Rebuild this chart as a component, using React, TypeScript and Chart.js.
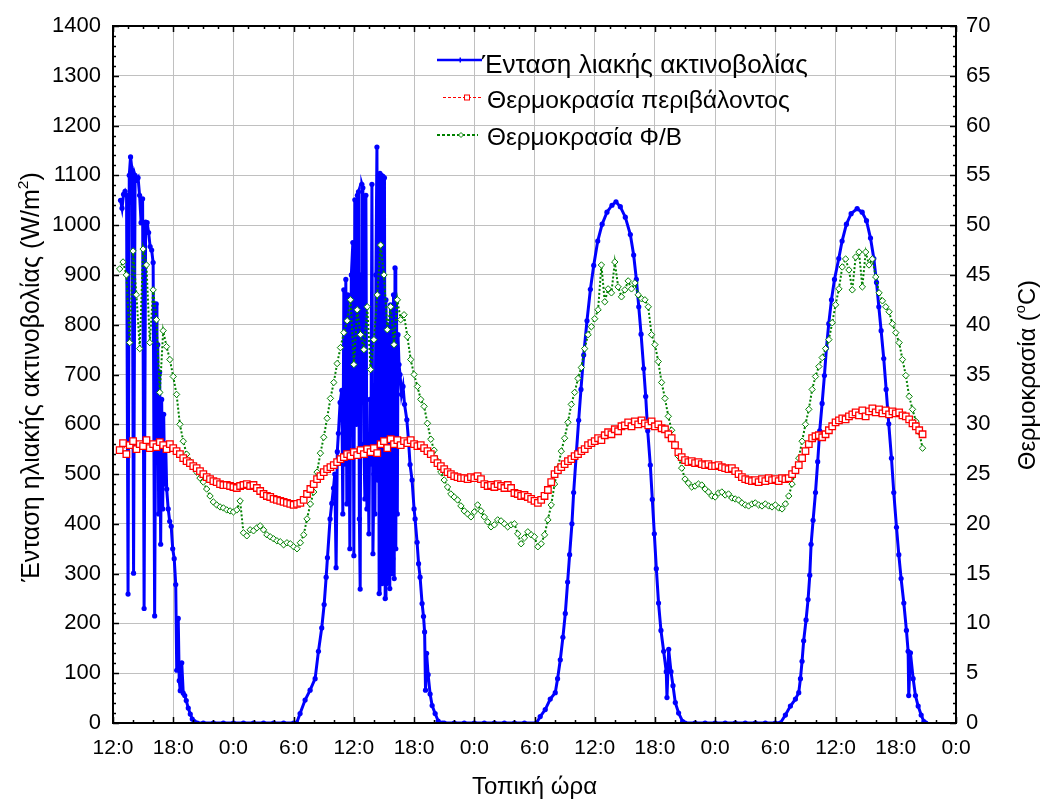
import React, { useEffect, useRef } from "react";
import { Chart, registerables } from "chart.js";

Chart.register(...registerables);

const FONT = '"Liberation Sans", Arial, Helvetica, sans-serif';

// ---- axis tick labels ----
const timeTickLabels = ["12:0", "18:0", "0:0", "6:0", "12:0", "18:0", "0:0", "6:0", "12:0", "18:0", "0:0", "6:0", "12:0", "18:0", "0:0"];
const TIME_TICK_STEP = 6; // hours between labelled ticks

// ---- solar irradiance (W/m2), hours since first 12:00 ----
const irrDay1Hours = [0.75, 0.9, 1.05, 1.2, 1.35, 1.5, 1.62, 1.75, 1.9, 2.05, 2.2, 2.35, 2.5, 2.65, 2.8, 2.95, 3.1, 3.25, 3.4, 3.55, 3.7, 3.85, 4.0, 4.15, 4.3, 4.38, 4.46, 4.55, 4.65, 4.75, 4.85, 4.95, 5.05, 5.15, 5.25, 5.35, 5.5, 5.65, 5.8, 5.95, 6.1, 6.25, 6.35, 6.5, 6.6, 6.7, 6.85, 7.0, 7.15, 7.3, 7.5, 7.7, 7.9, 8.1, 8.4, 9, 10, 11, 12, 13, 14, 15, 16, 17, 18];
const irrDay1Values = [1050, 1034, 1062, 1068, 1060, 259, 1100, 1137, 1110, 301, 1100, 1090, 1095, 1060, 1005, 1053, 230, 1006, 1005, 985, 957, 950, 925, 215, 842, 560, 760, 420, 705, 359, 650, 430, 620, 480, 560, 470, 430, 405, 395, 350, 330, 278, 106, 210, 85, 65, 121, 60, 55, 45, 30, 18, 8, 3, 0, 0, 0, 0, 0, 0, 0, 0, 0, 0, 0];

const irrDay2Hours = [18.3, 18.64, 19.14, 19.64, 20.14, 20.47, 20.8, 21.04, 21.24, 21.37, 21.63, 21.8, 21.97, 22.1, 22.23, 22.35, 22.46, 22.63, 22.8, 22.9, 23.0, 23.1, 23.2, 23.3, 23.4, 23.5, 23.6, 23.75, 23.9, 24.0, 24.1, 24.25, 24.35, 24.46, 24.55, 24.63, 24.72, 24.8, 24.9, 25.0, 25.1, 25.2, 25.3, 25.4, 25.5, 25.6, 25.7, 25.8, 25.9, 26.0, 26.1, 26.2, 26.3, 26.38, 26.45, 26.52, 26.6, 26.68, 26.75, 26.82, 26.9, 26.98, 27.05, 27.12, 27.2, 27.28, 27.35, 27.42, 27.5, 27.58, 27.65, 27.72, 27.8, 27.88, 27.95, 28.02, 28.1, 28.18, 28.25, 28.33, 28.4, 28.5, 28.6, 28.75, 28.9, 29.05, 29.28, 29.45, 29.6, 29.8, 30.0, 30.1, 30.3, 30.45, 30.6, 30.8, 30.94, 31.05, 31.14, 31.25, 31.4, 31.6, 31.8, 32.1, 32.4, 32.8, 33, 34, 35, 36, 37, 38, 39, 40, 41];
const irrDay2Values = [0, 19, 46, 66, 89, 144, 191, 238, 293, 332, 410, 441, 472, 500, 312, 545, 582, 644, 668, 420, 870, 520, 891, 440, 860, 700, 350, 900, 965, 336, 1051, 600, 1060, 1067, 410, 269, 900, 1082, 1075, 560, 450, 1060, 430, 560, 380, 650, 520, 1082, 340, 500, 420, 900, 1157, 488, 1100, 260, 1104, 320, 1100, 280, 1098, 300, 1095, 250, 850, 280, 800, 320, 780, 270, 840, 300, 820, 330, 860, 290, 914, 350, 848, 420, 780, 720, 700, 660, 676, 640, 609, 566, 519, 488, 430, 410, 363, 320, 293, 240, 214, 183, 66, 140, 97, 58, 35, 19, 4, 0, 0, 0, 0, 0, 0, 0, 0, 0, 0];

const irrDay3Hours = [42.2, 42.57, 43.07, 43.57, 44.07, 44.3, 44.57, 44.83, 45.07, 45.3, 45.5, 45.73, 45.9, 46.16, 46.4, 46.63, 46.9, 47.23, 47.57, 47.9, 48.3, 48.74, 49.22, 49.72, 50.12, 50.55, 51.05, 51.55, 51.88, 52.15, 52.39, 52.62, 52.88, 53.08, 53.28, 53.54, 53.74, 53.94, 54.14, 54.36, 54.6, 54.87, 55.13, 55.2, 55.37, 55.6, 55.8, 56.03, 56.36, 56.76, 57.0, 58, 59, 60, 61, 62, 63, 64, 65, 66];
const irrDay3Values = [0, 13, 27, 48, 61, 89, 127, 172, 220, 283, 338, 400, 463, 539, 608, 670, 739, 808, 871, 919, 968, 1002, 1026, 1040, 1047, 1037, 1016, 981, 940, 891, 836, 781, 712, 656, 587, 518, 449, 380, 310, 241, 186, 144, 103, 51, 148, 103, 75, 41, 20, 3, 0, 0, 0, 0, 0, 0, 0, 0, 0, 0];

const irrDay4Hours = [66.5, 67.0, 67.5, 68.0, 68.33, 68.5, 68.66, 68.82, 69.06, 69.26, 69.43, 69.56, 69.76, 70.0, 70.22, 70.42, 70.66, 70.89, 71.09, 71.32, 71.59, 71.89, 72.32, 72.65, 73.08, 73.55, 74.15, 74.65, 75.08, 75.48, 75.81, 76.08, 76.31, 76.54, 76.8, 77.04, 77.3, 77.57, 77.8, 78.07, 78.3, 78.53, 78.8, 79.06, 79.23, 79.29, 79.46, 79.73, 79.96, 80.23, 80.53, 80.8, 81.0];
const irrDay4Values = [0, 16, 34, 48, 61, 89, 124, 165, 207, 248, 297, 359, 407, 463, 525, 587, 642, 698, 753, 802, 850, 891, 933, 968, 1002, 1023, 1033, 1026, 1009, 974, 933, 885, 836, 788, 732, 670, 601, 532, 463, 393, 338, 290, 241, 186, 144, 55, 141, 89, 55, 34, 16, 3, 0];

// ---- temperatures (°C), one reading every 20 minutes from 12:40 ----
const TEMP_START_HOUR = 2 / 3;
const TEMP_STEP_HOURS = 1 / 3;

const ambientTemp = [27.4,
  28.1, 27.0, 27.9, 28.3, 27.5, 28.0, 27.8, 28.4, 27.6, 28.0, 27.7, 28.2, 27.9, 27.5, 28.0,
  27.6, 27.3, 27.0, 26.6, 26.3, 26.1, 25.8, 25.6, 25.3, 25.0, 24.7, 24.5, 24.3, 24.2, 24.0,
  23.9, 23.9, 23.8, 23.7, 23.6, 23.8, 23.9, 24.0, 23.8, 23.9, 23.6, 23.3, 23.0, 22.8, 22.7,
  22.5, 22.4, 22.3, 22.2, 22.1, 22.0, 21.9, 22.0, 22.1, 22.4, 23.0, 23.5, 24.0, 24.5, 24.8,
  25.2, 25.5, 25.7, 25.9, 26.2, 26.5, 26.7, 27.0, 26.8, 27.2, 26.9, 27.4, 27.0, 27.5, 27.2,
  27.6, 27.1, 28.0, 28.3, 27.6, 28.5, 28.0, 28.4, 27.9, 28.3, 28.1, 28.4, 28.0, 27.8, 27.9,
  27.6, 27.3, 27.0, 26.5, 26.1, 25.8, 25.5, 25.2, 25.0, 24.8, 24.7, 24.6, 24.6, 24.5, 24.7,
  24.6, 24.8, 24.5, 24.0, 23.8, 23.9, 23.7, 24.0, 23.8, 23.6, 23.9, 23.6, 23.1, 23.0, 22.8,
  22.9, 22.7, 22.5, 22.3, 22.1, 22.4, 22.8, 23.4, 24.2, 25.0, 25.4, 25.7, 26.0, 26.3, 26.5,
  26.8, 27.0, 27.3, 27.5, 27.9, 28.1, 28.3, 28.6, 28.4, 28.9, 29.2, 29.0, 29.5, 29.3, 29.8,
  29.9, 30.2, 29.8, 30.3, 30.0, 30.4, 30.1, 29.9, 30.3, 29.8, 30.0, 29.6, 29.5, 29.0, 28.6,
  27.9, 27.2, 26.7, 26.4, 26.2, 26.3, 26.1, 26.2, 26.0, 25.9, 26.0, 25.8, 25.8, 25.9, 25.7,
  25.6, 25.5, 25.6, 25.3, 25.0, 24.7, 24.5, 24.4, 24.3, 24.4, 24.2, 24.5, 24.3, 24.6, 24.4,
  24.5, 24.3, 24.6, 24.5, 24.6, 25.0, 25.4, 25.9, 26.6, 27.3, 28.0, 28.6, 28.8, 28.9, 28.7,
  29.0, 29.4, 29.8, 30.2, 30.4, 30.6, 30.5, 30.8, 31.0, 31.2, 30.9, 31.4, 30.8, 31.3, 31.6,
  31.2, 31.5, 31.1, 31.4, 31.0, 31.3, 31.1, 31.2, 30.9, 30.8, 30.5, 30.1, 29.8, 29.4, 29.0];

const pvTemp = [45.6,
  46.3, 45.0, 38.2, 47.4, 43.0, 37.6, 47.6, 46.0, 38.2, 43.5, 40.5, 33.2, 39.4, 37.8, 36.5,
  34.8, 33.0, 30.0, 28.3, 27.0, 26.3, 25.9, 25.2, 24.6, 24.2, 23.5, 22.8, 22.2, 21.9, 21.7,
  21.6, 21.4, 21.3, 21.2, 21.4, 22.3, 19.1, 18.8, 19.4, 19.3, 19.6, 19.8, 19.4, 18.9, 18.7,
  18.5, 18.3, 18.2, 17.9, 18.1, 18.0, 17.7, 17.5, 18.1, 18.9, 20.5, 22.0, 23.2, 25.2, 27.1,
  28.7, 30.6, 32.6, 34.2, 36.1, 37.7, 39.2, 40.4, 42.5, 36.0, 41.5, 39.0, 37.5, 41.8, 35.5,
  38.5, 43.0, 48.0, 45.0, 39.5, 41.8, 38.0, 42.5, 40.5, 41.0, 38.8, 36.5, 35.0, 33.8, 32.5,
  31.8, 30.1, 28.5, 27.4, 26.3, 25.2, 24.4, 23.7, 23.0, 22.7, 22.4, 21.8, 21.3, 21.0, 20.7,
  21.2, 21.9, 21.3, 20.7, 20.2, 19.7, 19.9, 20.4, 20.3, 20.0, 19.7, 19.9, 20.0, 19.0, 18.0,
  18.6, 19.2, 18.9, 18.7, 17.7, 18.0, 18.9, 20.4, 21.9, 24.0, 25.6, 27.3, 28.6, 30.2, 32.0,
  33.2, 34.6, 35.7, 37.6, 39.0, 39.8, 40.6, 41.5, 46.0, 42.3, 43.6, 43.2, 46.3, 43.8, 42.8,
  43.5, 44.4, 43.6, 44.2, 43.0, 42.6, 42.5, 41.8, 39.0, 38.0, 36.3, 34.2, 32.6, 30.8, 29.4,
  28.0, 26.8, 25.6, 24.5, 24.1, 23.7, 23.8, 24.0, 23.9, 23.5, 23.2, 22.8, 22.7, 23.1, 23.2,
  22.9, 23.0, 22.6, 22.5, 22.4, 22.1, 21.9, 21.8, 22.0, 22.1, 21.9, 21.8, 22.0, 21.8, 21.7,
  21.9, 21.6, 21.5, 22.0, 22.8, 24.0, 25.5, 26.6, 28.3, 30.0, 31.5, 33.5, 34.8, 35.8, 36.7,
  37.6, 38.5, 40.2, 42.0, 43.6, 45.8, 46.6, 45.5, 43.5, 46.8, 47.3, 43.8, 47.3, 46.0, 46.6,
  44.8, 43.2, 42.4, 41.8, 41.3, 40.1, 39.2, 38.2, 36.5, 34.9, 32.8, 31.5, 30.3, 29.2, 27.6];

// ---- texts ----
const seriesLabels = ["Ένταση λιακής ακτινοβολίας", "Θερμοκρασία περιβάλοντος", "Θερμοκρασία Φ/Β"];
const xAxisTitle = "Τοπική ώρα";
const leftAxisTitle = [{ text: "Ένταση ηλιακής ακτινοβολίας (W/m" }, { text: "2", sup: true }, { text: ")" }];
const rightAxisTitle = [{ text: "Θερμοκρασία (" }, { text: "o", sup: true }, { text: "C)" }];

const BLUE = "#0000ff";
const RED = "#ff0000";
const GREEN = "#008000";
const GRID = "#c0c0c0";

type Seg = { text: string; sup?: boolean };

function richWidth(ctx: CanvasRenderingContext2D, segs: Seg[], size: number) {
  let w = 0;
  for (const s of segs) {
    ctx.font = `${s.sup ? size * 0.62 : size}px ${FONT}`;
    w += ctx.measureText(s.text).width;
  }
  return w;
}

function drawRich(ctx: CanvasRenderingContext2D, segs: Seg[], size: number, x0: number, baseline: number) {
  let x = x0;
  for (const s of segs) {
    const fs = s.sup ? size * 0.62 : size;
    ctx.font = `${fs}px ${FONT}`;
    ctx.fillText(s.text, x, baseline - (s.sup ? size * 0.42 : 0));
    x += ctx.measureText(s.text).width;
  }
}

function fitSize(ctx: CanvasRenderingContext2D, segs: Seg[], target: number) {
  return (20 * target) / richWidth(ctx, segs, 20);
}

const decorPlugin = {
  id: "decor",
  afterDraw(chart: any) {
    const ctx: CanvasRenderingContext2D = chart.ctx;
    const { left, right, top, bottom } = chart.chartArea;
    const xs = chart.scales.x;
    const ys = chart.scales.y;
    const y2 = chart.scales.y2;
    ctx.save();
    ctx.setLineDash([]);
    ctx.strokeStyle = "#000";
    ctx.lineWidth = 1.5;
    ctx.beginPath();
    for (let v = 0; v <= 1400; v += 20) {
      const py = Math.round(ys.getPixelForValue(v)) + 0.5;
      const len = v % 100 === 0 ? 6 : 3;
      ctx.moveTo(left, py);
      ctx.lineTo(left + len, py);
    }
    for (let v = 0; v <= 70; v += 1) {
      const py = Math.round(y2.getPixelForValue(v)) + 0.5;
      const len = v % 5 === 0 ? 6 : 3;
      ctx.moveTo(right, py);
      ctx.lineTo(right - len, py);
    }
    for (let h = 0; h <= 84; h += 2) {
      const px = Math.round(xs.getPixelForValue(h)) + 0.5;
      const len = h % 6 === 0 ? 6 : 3;
      ctx.moveTo(px, bottom);
      ctx.lineTo(px, bottom - len);
    }
    for (let h = 0; h <= 84; h += 1.5) {
      const px = Math.round(xs.getPixelForValue(h)) + 0.5;
      const len = h % 6 === 0 ? 6 : 3;
      ctx.moveTo(px, top);
      ctx.lineTo(px, top + len);
    }
    ctx.stroke();
    ctx.lineWidth = 2;
    ctx.strokeRect(left, top, right - left, bottom - top);

    // axis titles
    ctx.fillStyle = "#000";
    ctx.textAlign = "left";
    ctx.textBaseline = "alphabetic";
    const ls = fitSize(ctx, leftAxisTitle, 410);
    const lw = richWidth(ctx, leftAxisTitle, ls);
    ctx.save();
    ctx.translate(39, 377);
    ctx.rotate(-Math.PI / 2);
    drawRich(ctx, leftAxisTitle, ls, -lw / 2, 0);
    ctx.restore();

    const rs = fitSize(ctx, rightAxisTitle, 190);
    const rw = richWidth(ctx, rightAxisTitle, rs);
    ctx.save();
    ctx.translate(1035, 375);
    ctx.rotate(-Math.PI / 2);
    drawRich(ctx, rightAxisTitle, rs, -rw / 2, 0);
    ctx.restore();

    const bseg = [{ text: xAxisTitle }];
    const bs = fitSize(ctx, bseg, 125);
    const bw = richWidth(ctx, bseg, bs);
    drawRich(ctx, bseg, bs, (left + right) / 2 - bw / 2, 794);

    // legend
    const rows = [
      { x0: 437, x1: 482, y: 60, tx: 482, ty: 73, tw: 326, color: BLUE, width: 2.5, dash: [] as number[], mark: "dot", mx: 460 },
      { x0: 443, x1: 483, y: 97.5, tx: 487, ty: 108, tw: 303, color: RED, width: 1, dash: [3, 2], mark: "square", mx: 467 },
      { x0: 437, x1: 478, y: 135, tx: 487, ty: 145, tw: 195, color: GREEN, width: 2, dash: [3, 2], mark: "diamond", mx: 461 },
    ];
    rows.forEach((r, i) => {
      ctx.strokeStyle = r.color;
      ctx.lineWidth = r.width;
      ctx.setLineDash(r.dash);
      ctx.beginPath();
      ctx.moveTo(r.x0, r.y);
      ctx.lineTo(r.x1, r.y);
      ctx.stroke();
      ctx.setLineDash([]);
      ctx.lineWidth = 1;
      if (r.mark === "dot") {
        ctx.fillStyle = r.color;
        ctx.fillRect(r.mx - 0.5, r.y - 2.5, 1.5, 5);
      } else if (r.mark === "square") {
        ctx.fillStyle = "#fff";
        ctx.fillRect(r.mx - 2.5, r.y - 2.5, 5, 5);
        ctx.strokeRect(r.mx - 2.5, r.y - 2.5, 5, 5);
      } else {
        ctx.fillStyle = "#fff";
        ctx.beginPath();
        ctx.moveTo(r.mx - 2.5, r.y);
        ctx.lineTo(r.mx, r.y - 2.5);
        ctx.lineTo(r.mx + 2.5, r.y);
        ctx.lineTo(r.mx, r.y + 2.5);
        ctx.closePath();
        ctx.fill();
        ctx.stroke();
      }
      ctx.fillStyle = "#000";
      const segs = [{ text: seriesLabels[i] }];
      const s = fitSize(ctx, segs, r.tw);
      drawRich(ctx, segs, s, r.tx, r.ty);
    });
    ctx.restore();
  },
};

function pairs(hours: number[], values: number[]) {
  return hours.map((h, i) => ({ x: h, y: values[i] }));
}

function tempSeries(values: number[]) {
  return values.map((v, i) => ({ x: TEMP_START_HOUR + i * TEMP_STEP_HOURS, y: v }));
}

export default function App() {
  const canvasRef = useRef<HTMLCanvasElement | null>(null);

  useEffect(() => {
    const canvas = canvasRef.current;
    if (!canvas) return;
    const irrData = [
      ...pairs(irrDay1Hours, irrDay1Values),
      ...pairs(irrDay2Hours, irrDay2Values),
      ...pairs(irrDay3Hours, irrDay3Values),
      ...pairs(irrDay4Hours, irrDay4Values),
    ];
    const chart = new Chart(canvas, {
      type: "line",
      data: {
        datasets: [
          {
            label: seriesLabels[0],
            data: irrData,
            yAxisID: "y",
            borderColor: BLUE,
            borderWidth: 3,
            pointStyle: "circle",
            pointRadius: 2.6,
            pointBackgroundColor: BLUE,
            pointBorderColor: BLUE,
            pointBorderWidth: 0,
            tension: 0,
            order: 3,
          },
          {
            label: seriesLabels[1],
            data: tempSeries(ambientTemp),
            yAxisID: "y2",
            borderColor: RED,
            borderWidth: 1,
            borderDash: [3, 2],
            pointStyle: "rect",
            pointRadius: 4.6,
            pointBackgroundColor: "#ffffff",
            pointBorderColor: RED,
            pointBorderWidth: 1.3,
            tension: 0,
            order: 1,
          },
          {
            label: seriesLabels[2],
            data: tempSeries(pvTemp),
            yAxisID: "y2",
            borderColor: GREEN,
            borderWidth: 2,
            borderDash: [2, 2],
            pointStyle: "rectRot",
            pointRadius: 3.2,
            pointBackgroundColor: "#ffffff",
            pointBorderColor: GREEN,
            pointBorderWidth: 1,
            tension: 0,
            order: 2,
          },
        ],
      },
      options: {
        responsive: false,
        animation: false,
        devicePixelRatio: 1,
        layout: { padding: { left: 0, right: 0, top: 26, bottom: 0 } },
        plugins: { legend: { display: false }, tooltip: { enabled: false }, title: { display: false } },
        scales: {
          x: {
            type: "linear",
            position: "bottom",
            min: 0,
            max: 84,
            afterBuildTicks: (axis: any) => {
              axis.ticks = timeTickLabels.map((_, i) => ({ value: i * TIME_TICK_STEP }));
            },
            afterFit: (axis: any) => {
              axis.height = 84;
            },
            ticks: {
              autoSkip: false,
              maxRotation: 0,
              color: "#000",
              padding: 13,
              font: { family: FONT, size: 21 },
              callback: (value: any) => timeTickLabels[Math.round(Number(value) / TIME_TICK_STEP)],
            },
            grid: { color: GRID, lineWidth: 1, drawTicks: false },
            border: { display: false },
          },
          y: {
            position: "left",
            min: 0,
            max: 1400,
            afterFit: (axis: any) => {
              axis.width = 113;
            },
            ticks: { stepSize: 100, color: "#000", padding: 12, font: { family: FONT, size: 22 }, callback: (v: any) => String(v) },
            grid: { color: GRID, lineWidth: 1, drawTicks: false },
            border: { display: false },
          },
          y2: {
            position: "right",
            min: 0,
            max: 70,
            afterFit: (axis: any) => {
              axis.width = 89;
            },
            ticks: { stepSize: 5, color: "#000", padding: 10, font: { family: FONT, size: 22 }, callback: (v: any) => String(v) },
            grid: { drawOnChartArea: false, drawTicks: false },
            border: { display: false },
          },
        },
      },
      plugins: [decorPlugin],
    } as any);
    return () => chart.destroy();
  }, []);

  return (
    <div style={{ position: "absolute", left: 0, top: 0, width: 1045, height: 807, background: "#fff" }}>
      <canvas ref={canvasRef} width={1045} height={807} style={{ display: "block" }} />
    </div>
  );
}
